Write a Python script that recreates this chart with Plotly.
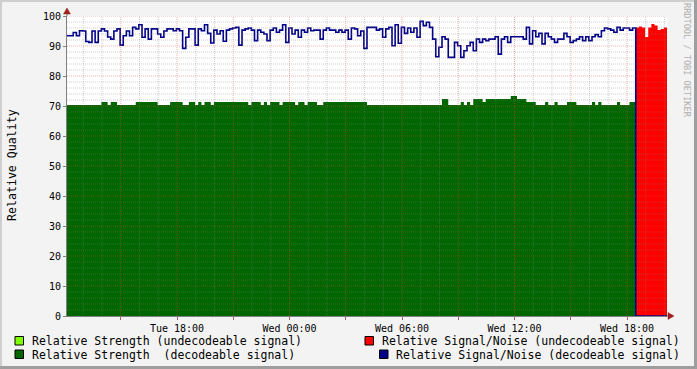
import plotly.graph_objects as go
import pandas as pd

# ---------------- data ----------------
times = pd.date_range("2024-01-02 12:08", periods=193, freq="10min")

# Relative Signal/Noise (decodeable signal) - navy line
sn_dec = [
    93.4, 93.4, 94.5, 93.4, 95.1, 95.0, 91.5, 91.2, 95.0, 91.2,
    95.0, 95.7, 95.0, 93.0, 92.3, 95.0, 95.7, 90.3, 93.4, 95.0,
    93.4, 96.2, 95.7, 97.1, 92.9, 95.7, 92.3, 95.7, 95.7, 94.0,
    92.9, 95.0, 95.7, 95.7, 95.1, 95.7, 95.1, 89.2, 92.9, 95.7,
    95.7, 90.3, 95.7, 95.1, 97.1, 94.2, 91.0,
    95.3, 94.0, 95.1, 91.6, 95.3, 95.7, 96.0, 96.2, 90.3, 95.3,
    95.7, 96.0, 95.3, 91.8, 95.3, 94.6, 94.0, 91.8, 95.3, 96.0,
    94.6, 95.3, 97.1, 91.2, 96.0, 94.0, 95.3, 92.9, 95.3, 94.6,
    96.0, 95.1, 95.3, 95.3, 92.3, 95.3, 96.0, 95.3, 95.3, 94.6,
    95.3, 94.6, 95.3, 92.3, 96.0, 95.7, 93.4, 95.0,
    89.2, 96.2, 96.2, 96.2, 95.3, 95.7, 92.9, 95.7, 96.2, 90.1,
    97.1, 90.9, 96.2, 94.2, 96.0, 94.6, 96.0, 92.9, 98.2, 96.8,
    97.9, 96.2, 92.3, 86.4, 89.6, 93.1, 92.3, 86.2, 86.2, 91.2,
    90.1, 86.2, 88.4, 90.1, 91.2, 88.4, 92.3, 91.2, 92.3, 91.8,
    92.3, 92.3, 93.1, 87.3, 92.3, 93.1, 91.2, 93.1,
    93.1, 93.1, 93.1, 92.3, 96.2, 90.7, 95.1, 93.1, 94.2, 90.7,
    94.2, 93.1, 92.3, 91.2, 92.3, 92.3, 94.2, 93.1, 91.2, 91.8,
    92.3, 93.1, 91.8, 93.1, 91.8, 93.1, 93.8, 93.1, 95.1, 96.0,
    95.7, 95.3, 94.6, 96.2, 95.3, 96.0, 96.0, 95.3, 96.0,
    0, 0, 0, 0, 0, 0, 0, 0, 0, 0, 0,
]

# Relative Strength (decodeable signal) - dark green area
strength_dec = [
    70.3, 70.3, 70.3, 70.3, 70.3, 70.3, 70.3, 70.3, 70.3, 70.3,
    70.3, 71.3, 71.3, 70.3, 71.3, 71.3, 70.3, 70.3, 70.3, 70.3,
    70.3, 70.3, 71.3, 71.3, 71.3, 71.3, 71.3, 71.3, 71.3, 70.3,
    70.3, 70.3, 70.3, 71.3, 71.3, 71.3, 71.3, 70.3, 70.3, 71.3,
    71.3, 70.3, 71.3, 70.3, 71.3, 71.3, 70.3, 71.3, 71.3, 71.3,
    71.3, 71.3, 71.3, 71.3, 71.3, 71.3, 71.3, 71.3, 70.3, 71.3,
    71.3, 71.3, 70.3, 71.3, 70.3, 71.3, 71.3, 71.3, 70.3, 71.3,
    71.3, 71.3, 71.3, 70.3, 71.3, 71.3, 70.3, 71.3, 71.3, 71.3,
    70.3, 70.3, 71.3, 71.3, 71.3, 71.3, 71.3, 71.3, 71.3, 71.3,
    71.3, 71.3, 71.3, 71.3, 71.3, 71.3, 70.3, 70.3, 70.3, 70.3,
    70.3, 70.3, 70.3, 70.3, 70.3, 70.3, 70.3, 70.3, 70.3, 70.3,
    70.3, 70.3, 70.3, 70.3, 70.3, 70.3, 70.3, 70.3, 70.3, 70.3,
    72.3, 72.3, 70.3, 70.3, 70.3, 70.3, 71.3, 70.3, 71.3, 70.3,
    72.3, 72.3, 72.3, 71.3, 72.3, 72.3, 72.3, 72.3, 72.3, 72.3,
    72.3, 72.3, 73.3, 73.3, 72.3, 72.3, 72.3, 71.3, 71.3, 71.3,
    70.3, 70.3, 70.3, 71.3, 70.3, 70.3, 71.3, 70.3, 70.3, 70.3,
    71.3, 71.3, 71.3, 70.3, 70.3, 70.3, 70.3, 70.3, 71.3, 70.3,
    71.3, 70.3, 70.3, 70.3, 70.3, 70.3, 71.3, 70.3, 70.3, 70.3,
    71.3, 71.3,
    0,
]

# Relative Signal/Noise (undecodeable signal) - red area (from Wed 18:28)
sn_undec = [96.2, 96.5, 96.2, 93.0, 96.2, 97.3, 96.8, 95.3, 95.7, 96.2, 96.2]

series_names = [
    "Relative Strength (undecodeable signal)",
    "Relative Signal/Noise (undecodeable signal)",
    "Relative Strength\u00a0 (decodeable signal)",
    "Relative Signal/Noise (decodeable signal)",
]
series_colors = ["#80FF00", "#FF0000", "#006600", "#000088"]

tick_vals = ["2024-01-02 15:00", "2024-01-02 18:00", "2024-01-02 21:00",
             "2024-01-03 00:00", "2024-01-03 03:00", "2024-01-03 06:00",
             "2024-01-03 09:00", "2024-01-03 12:00", "2024-01-03 15:00",
             "2024-01-03 18:00"]
tick_text = ["", "Tue 18:00", "", "Wed 00:00", "", "Wed 06:00", "",
             "Wed 12:00", "", "Wed 18:00"]
y_ticks = [0, 10, 20, 30, 40, 50, 60, 70, 80, 90, 100]

# ---------------- layout helpers (pixel -> paper) ----------------
W, H = 697, 369
L, R, T, B = 67, 667, 16, 316


def px(x):
    return (x - L) / (R - L)


def py(y):
    return (B - y) / (B - T)


MONO = "DejaVu Sans Mono"

fig = go.Figure()

fig.add_trace(go.Scatter(
    x=times[:183], y=strength_dec, mode="lines", line=dict(width=0, shape="hv"),
    fill="tozeroy", fillcolor=series_colors[2], showlegend=False, hoverinfo="skip"))
fig.add_trace(go.Scatter(
    x=times[182:], y=sn_undec, mode="lines", line=dict(width=0, shape="hv"),
    fill="tozeroy", fillcolor=series_colors[1], showlegend=False, hoverinfo="skip"))
fig.add_trace(go.Scatter(
    x=times, y=sn_dec, mode="lines", line=dict(width=1.6, shape="hv", color=series_colors[3]),
    showlegend=False, hoverinfo="skip"))

shapes = []
# grid drawn above data (rrdtool style)
minor_col = "rgba(128,128,128,0.38)"
major_col = "rgba(225,70,70,0.42)"
for t in pd.date_range("2024-01-02 13:00", "2024-01-03 20:00", freq="1h"):
    col = major_col if t.hour % 3 == 0 else minor_col
    shapes.append(dict(type="line", xref="x", yref="y", x0=t, x1=t, y0=0, y1=100,
                       layer="above", line=dict(color=col, width=1, dash="1px,1px")))
for v in range(2, 101, 2):
    col = major_col if v % 10 == 0 else minor_col
    shapes.append(dict(type="line", xref="paper", yref="y", x0=0, x1=1, y0=v, y1=v,
                       layer="above", line=dict(color=col, width=1, dash="1px,1px")))

# frame borders
shapes += [
    dict(type="rect", xref="paper", yref="paper", x0=px(0), x1=px(W), y0=py(0), y1=py(2),
         fillcolor="#CFCFCF", line=dict(width=0), layer="below"),
    dict(type="rect", xref="paper", yref="paper", x0=px(0), x1=px(2), y0=py(0), y1=py(H),
         fillcolor="#CFCFCF", line=dict(width=0), layer="below"),
    dict(type="rect", xref="paper", yref="paper", x0=px(W - 3), x1=px(W), y0=py(0), y1=py(H),
         fillcolor="#9E9E9E", line=dict(width=0), layer="below"),
    dict(type="rect", xref="paper", yref="paper", x0=px(0), x1=px(W), y0=py(H - 3), y1=py(H),
         fillcolor="#9E9E9E", line=dict(width=0), layer="below"),
]

# axis extensions and arrows
arrow_col = "#A02020"
shapes += [
    dict(type="line", xref="paper", yref="paper", x0=0, x1=0, y0=1, y1=py(13),
         line=dict(color="#808080", width=1), layer="above"),
    dict(type="path", xref="paper", yref="paper",
         path=f"M {px(67)} {py(8)} L {px(63.5)} {py(14)} L {px(70.5)} {py(14)} Z",
         fillcolor=arrow_col, line=dict(color=arrow_col, width=0.5), layer="above"),
    dict(type="line", xref="paper", yref="paper", x0=1, x1=px(669), y0=0, y1=0,
         line=dict(color="#808080", width=1), layer="above"),
    dict(type="path", xref="paper", yref="paper",
         path=f"M {px(674)} {py(316)} L {px(668)} {py(312.5)} L {px(668)} {py(319.5)} Z",
         fillcolor=arrow_col, line=dict(color=arrow_col, width=0.5), layer="above"),
]

# legend squares
sq = [(15, 336.5), (365, 336.5), (15, 350), (379.5, 350)]
for (sx, sy), c in zip(sq, series_colors):
    shapes.append(dict(type="rect", xref="paper", yref="paper",
                       x0=px(sx), x1=px(sx + 8.5), y0=py(sy), y1=py(sy + 8.5),
                       fillcolor=c, line=dict(color="#000000", width=1), layer="above"))

annotations = []
leg_pos = [(30, 341), (380, 341), (30, 355), (394, 355)]
for (lx, ly), name in zip(leg_pos, series_names):
    annotations.append(dict(text=name, xref="paper", yref="paper", x=px(lx), y=py(ly),
                            xanchor="left", yanchor="middle", showarrow=False,
                            font=dict(family=MONO, size=11.5, color="#000000")))
annotations.append(dict(text="Relative Quality", xref="paper", yref="paper",
                        x=px(12), y=py(165), textangle=-90, showarrow=False,
                        xanchor="center", yanchor="middle",
                        font=dict(family=MONO, size=11.6, color="#000000")))
annotations.append(dict(text="RRDTOOL / TOBI OETIKER", xref="paper", yref="paper",
                        x=px(687), y=py(60), textangle=90, showarrow=False,
                        xanchor="center", yanchor="middle",
                        font=dict(family=MONO, size=8.6, color="#B0B0B0")))

fig.update_layout(
    width=W, height=H,
    margin=dict(l=L, r=W - R, t=T, b=H - B, pad=0),
    paper_bgcolor="#F3F3F3", plot_bgcolor="#FFFFFF",
    showlegend=False,
    shapes=shapes, annotations=annotations,
    xaxis=dict(type="date", range=["2024-01-02 12:08", "2024-01-03 20:08"],
               tickvals=tick_vals, ticktext=tick_text, showgrid=False, zeroline=False,
               showline=True, linecolor="#808080", linewidth=1,
               ticks="outside", ticklen=3, tickcolor="#A06060", automargin=False,
               tickfont=dict(family=MONO, size=10, color="#000000")),
    yaxis=dict(range=[0, 100], tickvals=y_ticks, showgrid=False, zeroline=False,
               showline=True, linecolor="#808080", linewidth=1,
               ticks="outside", ticklen=3, tickcolor="#808080", automargin=False,
               tickfont=dict(family=MONO, size=10, color="#000000")),
)

fig.write_html("out.html")
